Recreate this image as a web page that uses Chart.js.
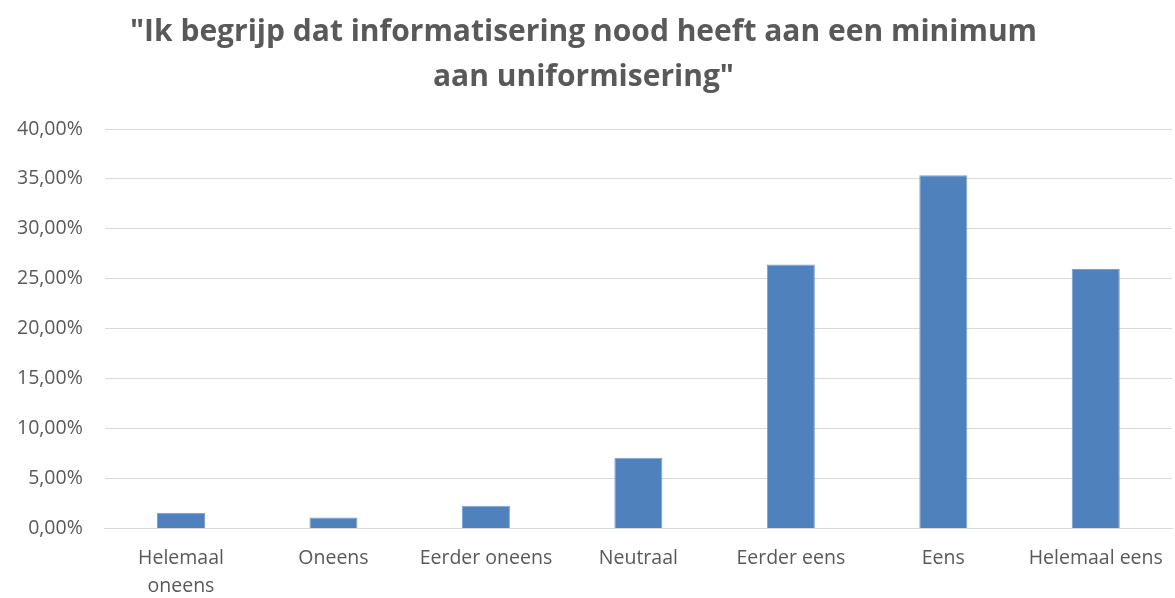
<!DOCTYPE html>
<html>
<head>
<meta charset="utf-8">
<script src="https://cdn.jsdelivr.net/npm/chart.js@4/dist/chart.umd.min.js"></script>
<style>
  html, body { margin: 0; padding: 0; background: #fff; }
  #wrap { width: 1175px; height: 598px; }
</style>
</head>
<body>
<div id="wrap"><canvas id="surveyChart" width="1175" height="598"></canvas></div>
<script>
const categories = [['Helemaal', 'oneens'], 'Oneens', 'Eerder oneens', 'Neutraal', 'Eerder eens', 'Eens', 'Helemaal eens'];
const percentages = [1.57, 1.10, 2.27, 7.09, 26.44, 35.37, 25.98];
const yTicks = [0, 5, 10, 15, 20, 25, 30, 35, 40];

const titleLines = ['"Ik begrijp dat informatisering nood heeft aan een minimum', 'aan uniformisering"'];
const textColor = '#595959';

var ctx = document.getElementById('surveyChart').getContext('2d');
var myChart = new Chart(ctx, {
    type: 'bar',
    data: {
        labels: categories,
        datasets: [{
            label: 'Percentage',
            data: percentages,
            backgroundColor: '#4f81bd',
            borderColor: '#7aa0d0',
            borderWidth: { top: 1, left: 1, right: 1, bottom: 0 },
            barPercentage: 0.315,
            categoryPercentage: 1.0
        }]
    },
    options: {
        responsive: false,
        animation: false,
        layout: { padding: { left: -5, right: 3, top: 10, bottom: -19 } },
        plugins: {
            legend: { display: false },
            tooltip: { enabled: false },
            title: {
                display: true,
                text: titleLines,
                color: textColor,
                font: { family: 'Open Sans', size: 30, weight: 'bold', lineHeight: 1.5 },
                padding: { top: 0, bottom: 29 }
            }
        },
        scales: {
            y: {
                min: 0,
                max: 40,
                afterBuildTicks: function(axis) {
                    axis.ticks = yTicks.map(v => ({ value: v }));
                },
                ticks: {
                    color: textColor,
                    font: { family: 'Open Sans', size: 19.5 },
                    padding: 22,
                    callback: v => v.toFixed(2).replace('.', ',') + '%'
                },
                grid: { color: '#d9d9d9', lineWidth: 1, drawTicks: false },
                border: { display: false }
            },
            x: {
                afterFit: function(axis) {
                    axis.paddingLeft = 0;
                    axis.paddingRight = 0;
                },
                ticks: {
                    color: textColor,
                    font: { family: 'Open Sans', size: 19.5, lineHeight: 1.45 },
                    padding: 16,
                    maxRotation: 0,
                    autoSkip: false
                },
                grid: { display: false, drawTicks: false },
                border: { display: true, color: '#d9d9d9', width: 1 }
            }
        }
    }
});
</script>
</body>
</html>
